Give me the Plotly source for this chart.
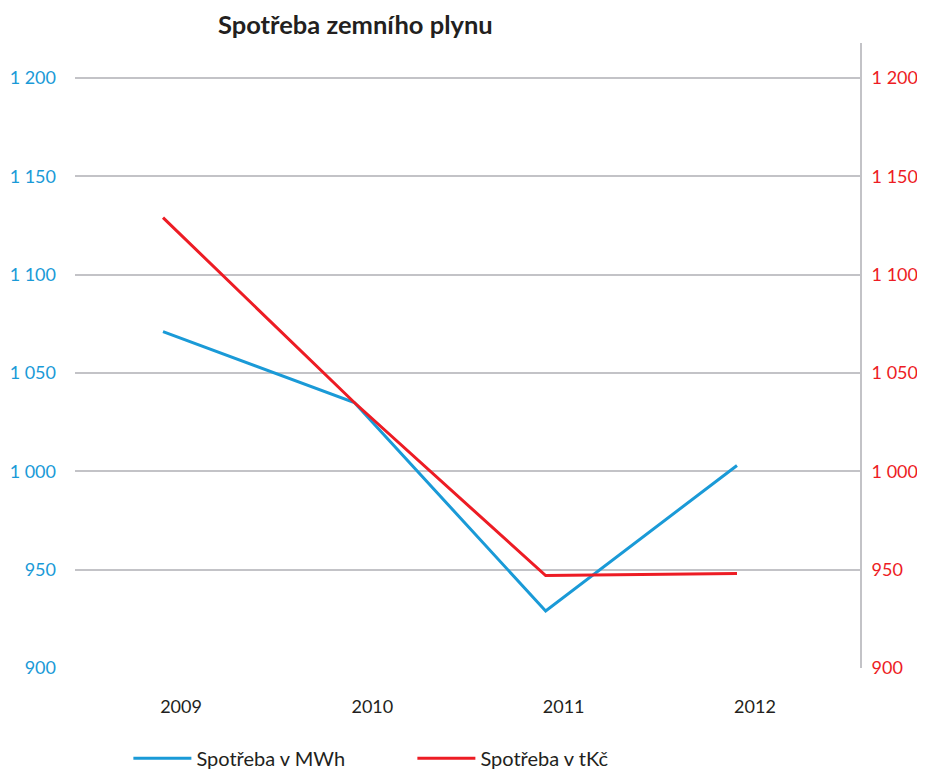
import plotly.graph_objects as go

# data
years = ['2009', '2010', '2011', '2012']
spotreba_mwh = [1071, 1035, 929, 1003]
spotreba_tkc = [1129, 1035, 947, 948]
y_ticks = [900, 950, 1000, 1050, 1100, 1150, 1200]

BLUE = '#1a9ad7'
RED = '#ed1c24'
GRID = '#c3c3c7'
FONT = 'Lato'

# the page body has an 8px margin, so the figure is made 8px smaller
W, H = 917, 765


def base_figure():
    fig = go.Figure()
    fig.update_layout(
        width=W, height=H,
        margin=dict(l=67, r=65, t=35, b=105, autoexpand=False),
        paper_bgcolor='white',
        plot_bgcolor='white',
        separators=', ',
        font=dict(family=FONT, size=18, color='#231f20'),
        title=dict(
            text='<b>Spotřeba zemního plynu</b>',
            x=210 / W, xanchor='left', xref='container',
            y=1 - 17 / H, yanchor='middle', yref='container',
            font=dict(family=FONT, size=25.5, color='#231f20'),
        ),
        showlegend=True,
        legend=dict(
            orientation='h',
            x=0.068, xanchor='left',
            y=-0.113, yanchor='top',
            itemwidth=58,
            entrywidth=211, entrywidthmode='pixels',
            font=dict(family=FONT, size=20, color='#231f20'),
        ),
    )
    pos = list(range(len(years)))
    fig.update_xaxes(
        range=[-0.46, 3.643],
        tickvals=pos, ticktext=years,
        showgrid=False, zeroline=False, showline=False,
        ticks='', ticklabelstandoff=26, ticklabelshift=18,
        automargin=False,
        tickfont=dict(size=18, color='#231f20'),
    )
    fig.update_layout(
        yaxis=dict(
            range=[900, 1217.8],
            tickvals=y_ticks, tickformat=',d',
            showgrid=True, gridcolor=GRID, gridwidth=2,
            zeroline=False, showline=False, ticks='',
            ticklabelstandoff=18, automargin=False,
            tickfont=dict(size=18, color=BLUE),
        ),
        yaxis2=dict(
            range=[900, 1217.8],
            tickvals=y_ticks, tickformat=',d',
            overlaying='y', side='right',
            showgrid=False, zeroline=False,
            showline=True, linecolor=GRID, linewidth=2,
            ticks='', ticklabelstandoff=6, automargin=False,
            tickfont=dict(size=18, color=RED),
        ),
    )
    return fig


def add_series(fig):
    pos = list(range(len(years)))
    fig.add_trace(go.Scatter(
        x=pos, y=spotreba_mwh, mode='lines', name='Spotřeba v MWh',
        line=dict(color=BLUE, width=3), yaxis='y',
    ))
    fig.add_trace(go.Scatter(
        x=pos, y=spotreba_tkc, mode='lines', name='Spotřeba v tKč',
        line=dict(color=RED, width=3), yaxis='y2',
    ))
    return fig


def main():
    fig = base_figure()
    fig = add_series(fig)
    fig.write_html('out.html')


if __name__ == '__main__':
    main()
